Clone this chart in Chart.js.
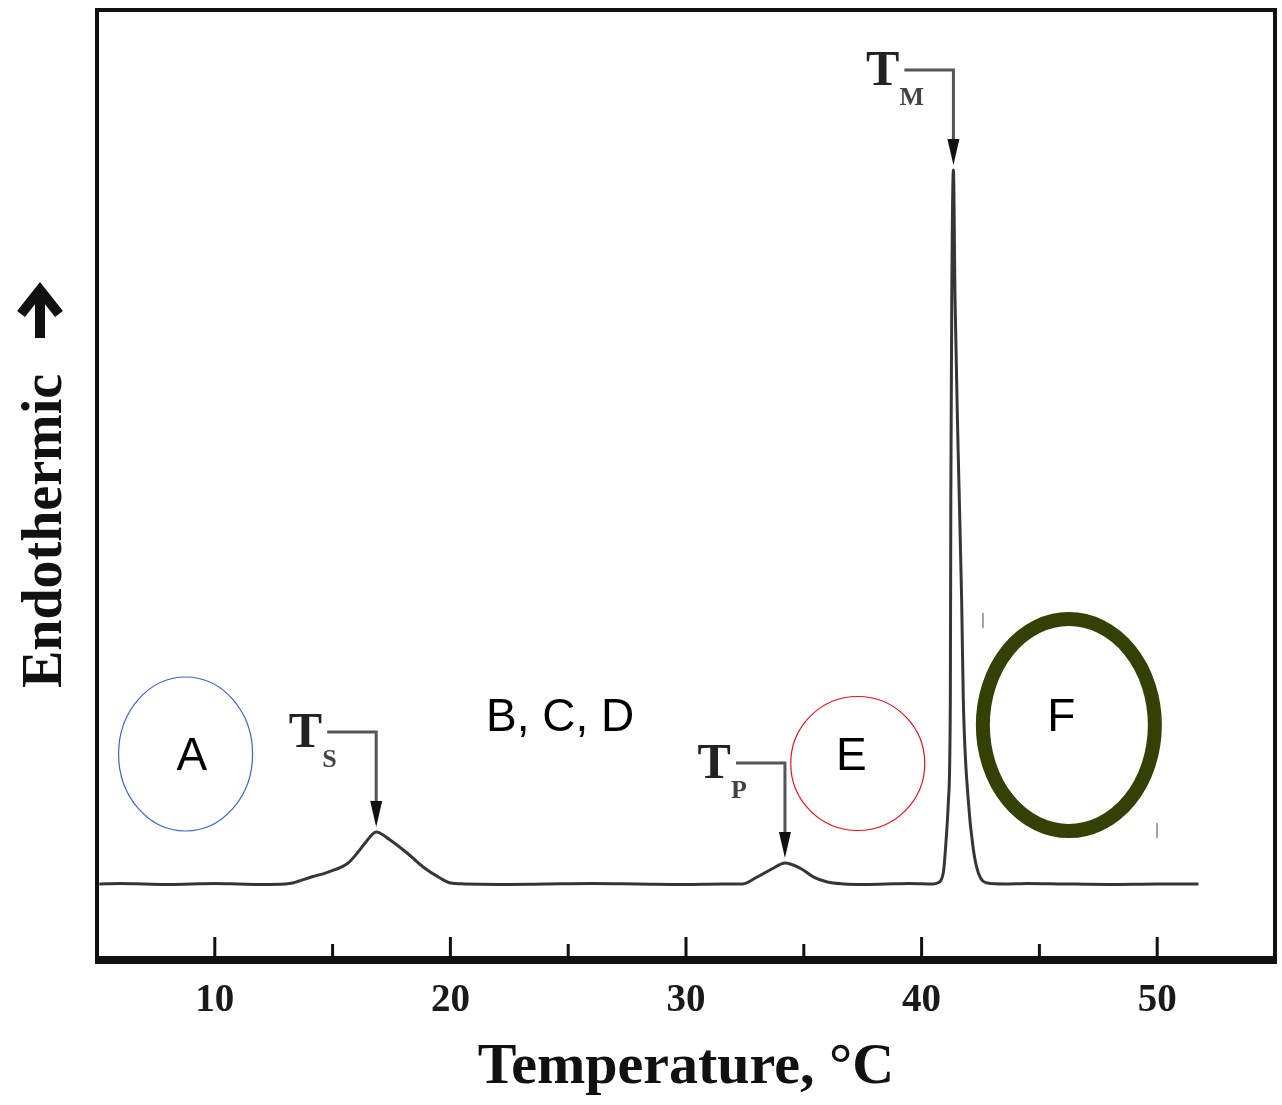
<!DOCTYPE html>
<html>
<head>
<meta charset="utf-8">
<title>DSC thermogram</title>
<script src="https://cdn.jsdelivr.net/npm/chart.js@4.4.1/dist/chart.umd.min.js"></script>
<style>
    html, body { margin: 0; padding: 0; background: #fff; }
    canvas { display: block; }
</style>
</head>
<body>
<canvas id="dsc-chart" width="1282" height="1105"></canvas>
<script>
// Temperature (°C) and heat flow (arbitrary units, endo up)
const temperatures = [
    5.1, 6, 7, 8, 9, 10, 11, 12, 13, 13.3,
    14.13, 14.81, 15.66, 16.08, 16.38, 16.85, 17.44, 18.16, 18.84, 19.56, 20.0, 20.6,
    22, 24, 26, 28, 30, 31.5, 32.4,
    33.0, 33.7, 34.2, 34.85, 35.4, 36.0, 36.7,
    37.5, 38.5, 39.5, 40.5,
    40.67, 40.92, 41.01, 41.14, 41.22, 41.24, 41.28, 41.35, 41.42, 41.55, 41.70, 41.77, 41.98, 42.20, 42.41, 42.79, 43.5,
    44.5, 46, 48, 50, 51.75
];
const heatFlow = [
    8.2, 8.25, 8.2, 8.15, 8.2, 8.25, 8.2, 8.15, 8.2, 8.3,
    8.95, 9.45, 10.4, 11.55, 12.5, 13.66, 12.82, 11.45, 9.98, 8.82, 8.3, 8.2,
    8.15, 8.2, 8.25, 8.2, 8.15, 8.2, 8.2,
    8.9, 9.85, 10.4, 9.85, 8.95, 8.4, 8.2,
    8.15, 8.2, 8.25, 8.2,
    8.3, 9.35, 11.76, 17.02, 27.52, 48.53, 69.54, 83.19, 69.54, 53.78, 38.03, 27.52, 17.02, 11.76, 9.35, 8.3, 8.2,
    8.25, 8.2, 8.15, 8.2, 8.2
];

// x axis
const majorTicks = [10, 20, 30, 40, 50];
const tickLabels = ['10', '20', '30', '40', '50'];
const minorTicks = [15, 25, 35, 45];

// peak markers (T_S, T_P, T_M)
const peakSubscripts = ['S', 'P', 'M'];
const peakTemps = [16.85, 34.2, 41.35];

// overlay notes
const noteTexts = ['A', 'B, C, D', 'E', 'F'];
const noteTemps = [9.03, 24.66, 37.02, 45.93];
const noteValues = [20.17, 24.26, 20.17, 24.26];

const ringTemps = [8.76, 37.29, 46.25];
const ringValues = [21.85, 20.85, 24.89];

const points = temperatures.map((t, i) => ({ x: t, y: heatFlow[i] }));

const serif = "'Liberation Serif', 'Times New Roman', serif";
const sans = "'Liberation Sans', Arial, sans-serif";

const overlayPlugin = {
    id: 'overlay',
    afterDraw: function(chart) {
        const ctx = chart.ctx;
        const area = chart.chartArea;
        const xs = chart.scales.x;
        const ys = chart.scales.y;
        ctx.save();

        // frame
        ctx.strokeStyle = '#111';
        ctx.lineWidth = 4;
        ctx.strokeRect(area.left, area.top, area.right - area.left, area.bottom - area.top);
        ctx.lineWidth = 6;
        ctx.beginPath();
        ctx.moveTo(area.left, area.bottom - 3);
        ctx.lineTo(area.right, area.bottom - 3);
        ctx.stroke();

        // inward ticks
        ctx.lineWidth = 3;
        majorTicks.forEach(v => {
            const px = xs.getPixelForValue(v);
            ctx.beginPath();
            ctx.moveTo(px, area.bottom - 3);
            ctx.lineTo(px, area.bottom - 25);
            ctx.stroke();
        });
        minorTicks.forEach(v => {
            const px = xs.getPixelForValue(v);
            ctx.beginPath();
            ctx.moveTo(px, area.bottom - 3);
            ctx.lineTo(px, area.bottom - 18);
            ctx.stroke();
        });

        // y title with arrow
        ctx.fillStyle = '#111';
        ctx.save();
        ctx.translate(61, 531);
        ctx.rotate(-Math.PI / 2);
        ctx.font = 'bold 56px ' + serif;
        ctx.textAlign = 'center';
        ctx.textBaseline = 'alphabetic';
        ctx.fillText('Endothermic', 0, 0);
        ctx.restore();
        ctx.strokeStyle = '#111';
        ctx.lineWidth = 10;
        ctx.beginPath();
        ctx.moveTo(40, 338);
        ctx.lineTo(40, 292);
        ctx.stroke();
        ctx.lineWidth = 10;
        ctx.beginPath();
        ctx.moveTo(21, 314);
        ctx.lineTo(40, 290);
        ctx.lineTo(59, 314);
        ctx.stroke();

        // peak markers
        peakTemps.forEach((t, i) => {
            const idx = temperatures.indexOf(t);
            const px = xs.getPixelForValue(t);
            const tipY = ys.getPixelForValue(heatFlow[idx]) - 5;
            const lineY = tipY - 95;
            const startX = px - 49;
            ctx.strokeStyle = '#555';
            ctx.lineWidth = 3;
            ctx.beginPath();
            ctx.moveTo(startX, lineY);
            ctx.lineTo(px, lineY);
            ctx.lineTo(px, tipY - 20);
            ctx.stroke();
            ctx.fillStyle = '#111';
            ctx.beginPath();
            ctx.moveTo(px - 6, tipY - 26);
            ctx.lineTo(px + 6, tipY - 26);
            ctx.lineTo(px, tipY);
            ctx.closePath();
            ctx.fill();

            const tRight = startX - 5;
            ctx.fillStyle = '#222';
            ctx.font = 'bold 50px ' + serif;
            ctx.textAlign = 'right';
            ctx.textBaseline = 'alphabetic';
            ctx.fillText('T', tRight, lineY + 15);
            ctx.fillStyle = '#444';
            ctx.font = 'bold 26px ' + serif;
            ctx.textAlign = 'left';
            ctx.fillText(peakSubscripts[i], tRight, lineY + 35);
        });

        // rings
        const ringStyles = [
            { rx: 67, ry: 77, color: '#3a66c4', width: 1.2 },
            { rx: 67, ry: 67, color: '#e0141e', width: 1.2 },
            { rx: 86, ry: 106, color: '#334204', width: 14 }
        ];
        ringTemps.forEach((t, i) => {
            const s = ringStyles[i];
            ctx.strokeStyle = s.color;
            ctx.lineWidth = s.width;
            ctx.beginPath();
            ctx.ellipse(xs.getPixelForValue(t), ys.getPixelForValue(ringValues[i]), s.rx, s.ry, 0, 0, Math.PI * 2);
            ctx.stroke();
        });

        // small handle marks beside ring F
        ctx.strokeStyle = '#8a8a7a';
        ctx.lineWidth = 1.5;
        ctx.beginPath();
        ctx.moveTo(983, 613); ctx.lineTo(983, 628);
        ctx.moveTo(1157, 823); ctx.lineTo(1157, 838);
        ctx.stroke();

        // note letters
        ctx.fillStyle = '#000';
        ctx.font = '46px ' + sans;
        ctx.textAlign = 'center';
        ctx.textBaseline = 'alphabetic';
        noteTexts.forEach((txt, i) => {
            ctx.fillText(txt, xs.getPixelForValue(noteTemps[i]), ys.getPixelForValue(noteValues[i]));
        });

        ctx.restore();
    }
};

const ctx = document.getElementById('dsc-chart').getContext('2d');
const dscChart = new Chart(ctx, {
    type: 'scatter',
    data: {
        datasets: [{
            data: points,
            showLine: true,
            borderColor: '#363636',
            borderWidth: 3,
            pointRadius: 0,
            cubicInterpolationMode: 'monotone',
            fill: false
        }]
    },
    options: {
        responsive: false,
        animation: false,
        layout: {
            padding: { left: 97, right: 7, top: 10, bottom: 2 }
        },
        plugins: {
            legend: { display: false },
            tooltip: { enabled: false }
        },
        scales: {
            x: {
                type: 'linear',
                min: 5,
                max: 55,
                grid: { display: false, drawTicks: false },
                border: { display: false },
                afterFit: function(scale) {
                    // fixed axis band so the plot frame lands where the original's does
                    scale.height = 141;
                    scale.paddingLeft = 0;
                    scale.paddingRight = 0;
                },
                ticks: {
                    stepSize: 5,
                    autoSkip: false,
                    maxRotation: 0,
                    padding: 16,
                    color: '#1a1a1a',
                    font: { family: serif, size: 39, weight: 'bold' },
                    callback: function(value) {
                        const i = majorTicks.indexOf(value);
                        return i >= 0 ? tickLabels[i] : '';
                    }
                },
                title: {
                    display: true,
                    text: 'Temperature, °C',
                    color: '#111',
                    font: { family: serif, size: 58, weight: 'bold' },
                    padding: { top: 10, bottom: 0 }
                }
            },
            y: {
                display: false,
                min: 0,
                max: 100
            }
        }
    },
    plugins: [overlayPlugin]
});
</script>
</body>
</html>
